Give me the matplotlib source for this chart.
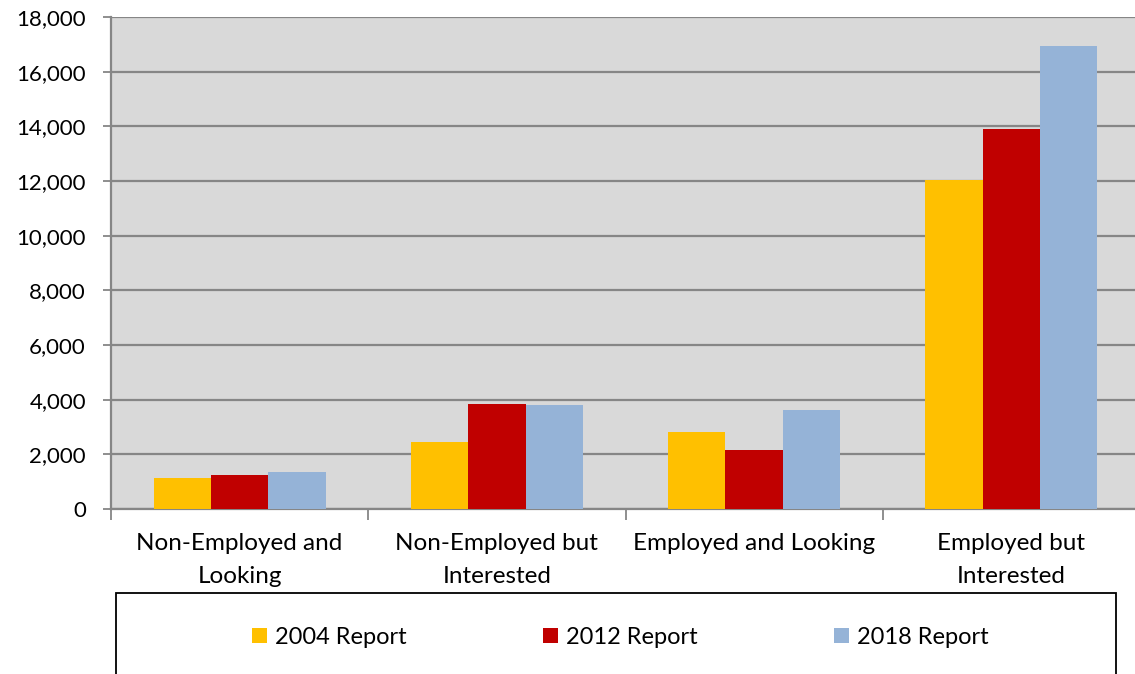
import matplotlib.pyplot as plt
import matplotlib.patches as mpatches
import numpy as np

# Data
categories = ['Non-Employed and\nLooking', 'Non-Employed but\nInterested',
              'Employed and Looking', 'Employed but\nInterested']
series_names = ['2004 Report', '2012 Report', '2018 Report']
report_2004 = [1145, 2440, 2800, 12050]
report_2012 = [1230, 3840, 2155, 13890]
report_2018 = [1340, 3790, 3620, 16950]
colors = ['#FFC000', '#C00000', '#95B3D7']

plt.rcParams['font.family'] = ['Lato', 'DejaVu Sans']

fig = plt.figure(figsize=(11.35, 6.74), dpi=100)
ax = fig.add_axes([111 / 1135, 1 - 509 / 674, 1029 / 1135, 492 / 674])
ax.set_facecolor('#D9D9D9')

x = np.arange(len(categories))
w = 0.223
for i, (vals, c, name) in enumerate(zip([report_2004, report_2012, report_2018], colors, series_names)):
    ax.bar(x + (i - 1) * w, vals, width=w, color=c, label=name, zorder=3)

ax.set_xlim(-0.5, len(categories) - 0.5)
ax.set_ylim(0, 18000)
ax.set_yticks(np.arange(0, 18001, 2000))
ax.set_yticklabels(['{:,}'.format(v) for v in range(0, 18001, 2000)], fontsize=16)
ax.yaxis.grid(True, color='#868686', linewidth=1.6, zorder=1)
ax.set_axisbelow(True)

ax.set_xticks(x)
ax.set_xticklabels(categories, fontsize=17.5, linespacing=1.7)
ax.set_xticks(np.arange(-0.5, len(categories)), minor=True)
ax.tick_params(axis='x', which='major', length=0, pad=17)
ax.tick_params(axis='x', which='minor', length=8, width=1.3, color='#868686')
ax.tick_params(axis='y', length=6, width=1.3, color='#868686', pad=12)

for s in ['top', 'right']:
    ax.spines[s].set_visible(False)
for s in ['left', 'bottom']:
    ax.spines[s].set_color('#868686')
    ax.spines[s].set_linewidth(1.6)

# Legend box running off the bottom edge
box = mpatches.Rectangle((116 / 1135, -0.1), 1000 / 1135, 0.1 + 1 - 593 / 674,
                         transform=fig.transFigure, fill=False, edgecolor='black',
                         linewidth=1.3)
fig.patches.append(box)

# one legend entry per series
handles, labels = ax.get_legend_handles_labels()
entry_x = [252, 543, 834]
for h, l, ex in zip(handles, labels, entry_x):
    fig.legend([h], [l], loc='center left', bbox_to_anchor=(ex / 1135, 1 - 637 / 674),
               frameon=False, fontsize=17, handlelength=0.62, handleheight=0.62,
               handletextpad=0.35, borderpad=0, borderaxespad=0)

fig.savefig('out.png', dpi=100)
